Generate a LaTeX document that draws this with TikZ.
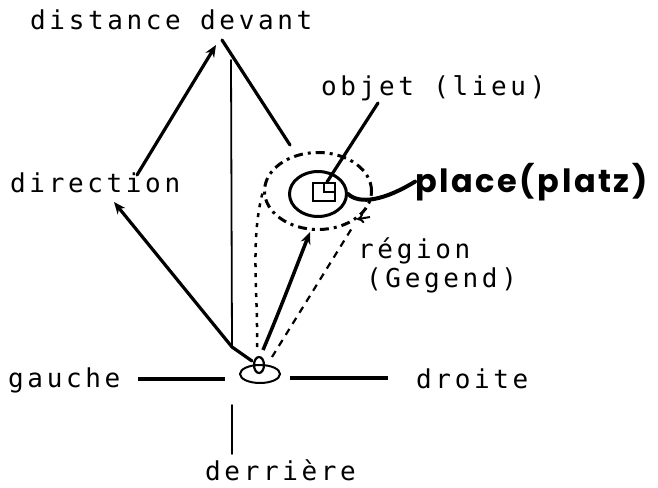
\documentclass[tikz,border=0pt]{standalone}
\usepackage{fontspec}
\usetikzlibrary{arrows.meta,shapes.geometric}
\newfontfamily\dotmono[LetterSpace=14]{DejaVu Sans Mono}
\newfontfamily\handfont[LetterSpace=8]{Poppins}
\begin{document}
\begin{tikzpicture}[x=1pt,y=-1pt,
  lbl/.style={font=\dotmono\fontsize{26}{28}\selectfont, anchor=base west, inner sep=0pt},
  thickline/.style={line width=3.2pt, line cap=round},
  thinline/.style={line width=1.8pt, line cap=round},
  arr/.style={-{Stealth[length=12pt,width=10pt]}},
  dotline/.style={line width=2.5pt, dash pattern=on 4pt off 6pt},
  dashline/.style={line width=2.2pt, dash pattern=on 7pt off 6pt}]
\useasboundingbox (0,0) rectangle (658,487);
% texts
\node[lbl] (dist) at (30,30) {distance devant};
\node[lbl] (dir) at (10,192) {direction};
\node[lbl] (obj) at (321,95) {objet (lieu)};
\node[lbl] (reg) at (358,258) {région};
\node[lbl] (geg) at (366,287) {(Gegend)};
\node[lbl] (gau) at (8,387) {gauche};
\node[lbl] (dro) at (416,388) {droite};
\node[lbl] (der) at (205,480) {derrière};
\node[font=\handfont\bfseries\fontsize{32}{34}\selectfont, anchor=base west, inner sep=0pt] (plc) at (415,192) {place(platz)};
% observer
\node[ellipse, draw, line width=2pt, minimum width=40pt, minimum height=18pt, inner sep=0pt] (obs) at (260,374) {};
\node[ellipse, draw, line width=2.2pt, minimum width=10pt, minimum height=16pt, inner sep=0pt] (eye) at (259,365) {};
\draw[line width=1.5pt] (eye.west) -- (eye.east);
% place, region, object
\node[ellipse, draw, line width=3pt, minimum width=57pt, minimum height=45pt, inner sep=0pt] (pl) at (318,194) {};
\node[ellipse, draw, line width=3pt, dash pattern=on 9pt off 5pt on 3pt off 5pt, minimum width=107pt, minimum height=77pt, inner sep=0pt] (rg) at (318,191) {};
\node[draw, line width=2.5pt, minimum width=22pt, minimum height=18pt, inner sep=0pt] (ob) at (324,192) {};
\draw[line width=2pt] (ob.north) -- (ob.center) -- (ob.east);
% coordinates
\coordinate (apexL) at (216,45);
\coordinate (apexR) at (222,40);
\coordinate (dirTip) at (114,202);
\coordinate (dirTop) at (137,175);
\coordinate (obsA) at (252,361);
\coordinate (vTop) at (231,60);
\coordinate (vBot) at (232,347);
\coordinate (rgTL) at (290,145);
\coordinate (objFoot) at (327,182);
\coordinate (objTop) at (378,103);
\coordinate (derTop) at (232,405);
\coordinate (derBot) at (232,454);
% triangle
\draw[thickline, arr] (vBot) -- (dirTip);
\draw[thickline, arr] (dirTop) -- (apexL);
\draw[thickline] (apexR) -- (rgTL);
\draw[thinline] (vTop) -- (vBot);
\draw[thickline] (vBot) -- (obsA);
\draw[thickline] (objTop) -- (objFoot);
% place connector
\draw[line width=4pt, line cap=round] (pl.east) .. controls (360,205) and (385,200) .. (plc.west);
% region arrow
\draw[line width=2pt, -{To[length=7pt,width=10pt]}] (reg.north west) ++(12,-20) -- (rg.south east);
% observer to region
\draw[line width=3.5pt, arr] (263,350) .. controls (280,310) and (295,270) .. (310,232);
\draw[dotline] (257,347) .. controls (258,290) and (250,240) .. (rg.west);
\draw[dashline] (272,357) -- (352,228);
% cross
\draw[line width=4pt] (138,379) -- (225,379);
\draw[line width=4pt] (290,378) -- (388,378);
\draw[thinline] (derTop) -- (derBot);
\end{tikzpicture}
\end{document}
